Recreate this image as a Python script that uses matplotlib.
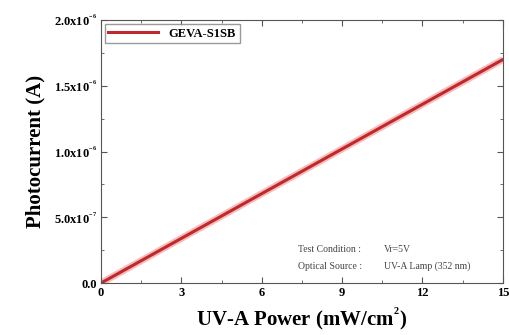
import matplotlib
matplotlib.use('Agg')
import matplotlib.pyplot as plt
from matplotlib.ticker import FixedLocator, AutoMinorLocator

# data
power = [0, 3, 6, 9, 12, 15]
current = [0.0, 0.34e-6, 0.68e-6, 1.02e-6, 1.36e-6, 1.70e-6]
x_ticks = [0, 3, 6, 9, 12, 15]
y_ticks = [0.0, 5.0e-7, 1.0e-6, 1.5e-6, 2.0e-6]
y_labels = ['0.0', r'5.0x10$^{^{-7}}$', r'1.0x10$^{^{-6}}$', r'1.5x10$^{^{-6}}$', r'2.0x10$^{^{-6}}$']

plt.rcParams['font.family'] = ['Liberation Serif', 'DejaVu Serif']
plt.rcParams['mathtext.fontset'] = 'custom'
plt.rcParams['mathtext.rm'] = 'Liberation Serif:bold'
plt.rcParams['mathtext.it'] = 'Liberation Serif:bold'

fig = plt.figure(figsize=(5.1, 3.35), dpi=100)
ax = fig.add_axes([0.198, 0.155, 0.788, 0.785])

ax.plot(power, current, color='#f4a0a0', lw=5, alpha=0.7, solid_capstyle='butt')
ax.plot(power, current, color='#c0282b', lw=2.2, label='GEVA-S1SB')

ax.set_xlim(0, 15)
ax.set_ylim(0, 2.0e-6)
ax.xaxis.set_major_locator(FixedLocator(x_ticks))
ax.set_xticklabels([str(t) for t in x_ticks], fontweight='bold', fontsize=9)
ax.yaxis.set_major_locator(FixedLocator(y_ticks))
ax.set_yticklabels(y_labels, fontweight='bold', fontsize=9)
ax.xaxis.set_minor_locator(AutoMinorLocator(2))
ax.yaxis.set_minor_locator(AutoMinorLocator(2))
ax.tick_params(which='both', direction='in', top=True, right=True, color='#555555')
ax.tick_params(which='major', length=4, pad=3)
ax.tick_params(which='minor', length=2)
for s in ax.spines.values():
    s.set_color('#555555')

ax.set_xlabel(r'UV-A Power (mW/cm$^{^{2}}$)', fontsize=15, fontweight='bold', labelpad=5)
ax.set_ylabel('Photocurrent (A)', fontsize=15, fontweight='bold', labelpad=6)

leg = ax.legend(loc='upper left', fontsize=9, frameon=True, fancybox=False,
                edgecolor='gray', handlelength=4, borderaxespad=0.3,
                borderpad=0.3)
for t in leg.get_texts():
    t.set_fontweight('bold')

ax.text(0.49, 0.11, 'Test Condition :', transform=ax.transAxes,
        fontsize=7, ha='left', va='bottom', color='#444444')
ax.text(0.705, 0.11, 'Vr=5V', transform=ax.transAxes,
        fontsize=7, ha='left', va='bottom', color='#444444')
ax.text(0.49, 0.045, 'Optical Source :', transform=ax.transAxes,
        fontsize=7, ha='left', va='bottom', color='#444444')
ax.text(0.705, 0.045, 'UV-A Lamp (352 nm)', transform=ax.transAxes,
        fontsize=7, ha='left', va='bottom', color='#444444')

fig.savefig('out.png', dpi=100)
